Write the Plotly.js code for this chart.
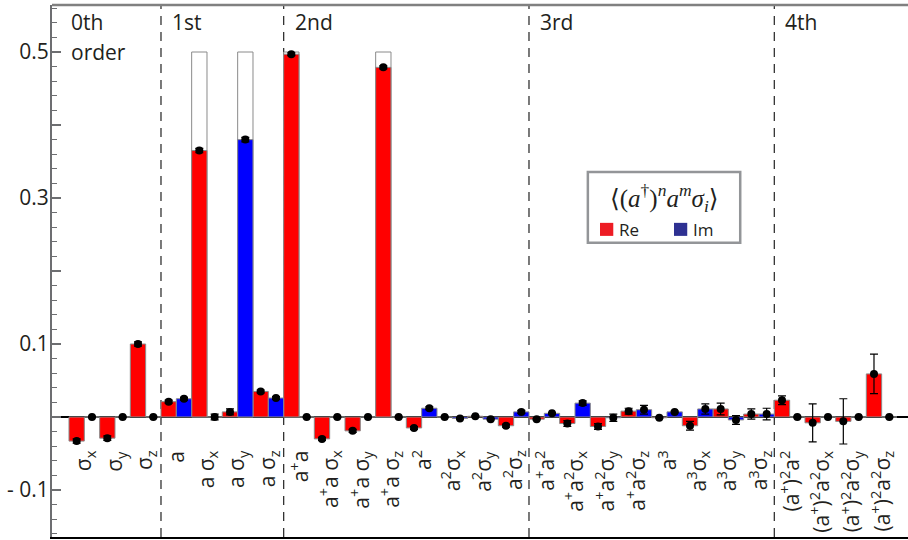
<!DOCTYPE html>
<html><head><meta charset="utf-8">
<script src="https://cdn.plot.ly/plotly-3.0.1.min.js"></script>
<style>html,body{margin:0;padding:0;background:#fff}</style>
</head><body><div id="chart" style="width:908px;height:540px"></div>
<script>
// ---- data ----
const categories = [
  'σ<sub>x</sub>','σ<sub>y</sub>','σ<sub>z</sub>',
  'a','a σ<sub>x</sub>','a σ<sub>y</sub>','a σ<sub>z</sub>',
  'a<sup>+</sup>a','a<sup>+</sup>a σ<sub>x</sub>','a<sup>+</sup>a σ<sub>y</sub>','a<sup>+</sup>a σ<sub>z</sub>',
  'a<sup>2</sup>','a<sup>2</sup>σ<sub>x</sub>','a<sup>2</sup>σ<sub>y</sub>','a<sup>2</sup>σ<sub>z</sub>',
  'a<sup>+</sup>a<sup>2</sup>','a<sup>+</sup>a<sup>2</sup>σ<sub>x</sub>','a<sup>+</sup>a<sup>2</sup>σ<sub>y</sub>','a<sup>+</sup>a<sup>2</sup>σ<sub>z</sub>',
  'a<sup>3</sup>','a<sup>3</sup>σ<sub>x</sub>','a<sup>3</sup>σ<sub>y</sub>','a<sup>3</sup>σ<sub>z</sub>',
  '(a<sup>+</sup>)<sup>2</sup>a<sup>2</sup>','(a<sup>+</sup>)<sup>2</sup>a<sup>2</sup>σ<sub>x</sub>','(a<sup>+</sup>)<sup>2</sup>a<sup>2</sup>σ<sub>y</sub>','(a<sup>+</sup>)<sup>2</sup>a<sup>2</sup>σ<sub>z</sub>'
];
const orderNames = ['0th','1st','2nd','3rd','4th'];
const orderSizes = [3, 4, 8, 8, 4];

const reValues = [
  -0.033, -0.029, 0.100,
  0.021, 0.365, 0.007, 0.035,
  0.497, -0.030, -0.019, 0.479, -0.015, 0.000, 0.001, -0.012,
  -0.003, -0.009, -0.013, 0.008, -0.001, -0.012, 0.011, 0.004,
  0.023, -0.008, -0.006, 0.059
];
const reErrors = [
  0.003, 0.003, 0.003,
  0.002, 0.003, 0.004, 0.002,
  0.002, 0.002, 0.002, 0.002, 0.002, 0.001, 0.001, 0.002,
  0.001, 0.004, 0.004, 0.004, 0.001, 0.006, 0.008, 0.007,
  0.006, 0.026, 0.031, 0.027
];
const imValues = [
  0.000, 0.000, 0.000,
  0.025, 0.000, 0.380, 0.026,
  0.000, 0.000, 0.000, 0.000, 0.012, -0.002, -0.003, 0.007,
  0.005, 0.019, -0.001, 0.010, 0.007, 0.011, -0.004, 0.004,
  0.000, 0.000, 0.000, 0.000
];
const imErrors = [
  0.001, 0.001, 0.001,
  0.002, 0.004, 0.003, 0.002,
  0.001, 0.001, 0.001, 0.001, 0.002, 0.001, 0.001, 0.002,
  0.001, 0.003, 0.005, 0.006, 0.001, 0.007, 0.006, 0.008,
  0.001, 0.001, 0.001, 0.001
];
const idealRe = [
  null, null, null,
  null, 0.5, null, null,
  0.5, null, null, 0.5, null, null, null, null,
  null, null, null, null, null, null, null, null,
  null, null, null, null
];
const idealIm = [
  null, null, null,
  null, null, 0.5, null,
  null, null, null, null, null, null, null, null,
  null, null, null, null, null, null, null, null,
  null, null, null, null
];
const yTickVals = [-0.1, 0, 0.1, 0.2, 0.3, 0.4, 0.5];
const yTickText = ['- 0.1', '', '0.1', '', '0.3', '', '0.5'];
const legendTitle = '⟨(<i>a</i><sup>†</sup>)<sup><i>n</i></sup><i>a</i><sup><i>m</i></sup><i>σ</i><sub><i>i</i></sub>⟩';
const legendNames = ['Re', 'Im'];

// ---- derived ----
const idx = categories.map((_, i) => i);
const bounds = [-0.5];
orderSizes.forEach(n => bounds.push(bounds[bounds.length - 1] + n));
const allBounds = [];
for (let b = -0.5; b <= categories.length - 0.5; b += 1) allBounds.push(b);

const xRange = [-1.054, 26.859];
const yRange = [-0.1644, 0.5644];
const FONT = 'Open Sans, Noto Sans, sans-serif';
const TXT = '#231f20';
const barLine = {color: '#8a8a8a', width: 1};

const traces = [
  {type: 'bar', x: idx, y: idealRe, width: 0.5, offset: -0.5, marker: {color: '#ffffff', line: barLine}, hoverinfo: 'skip'},
  {type: 'bar', x: idx, y: idealIm, width: 0.5, offset: 0, marker: {color: '#ffffff', line: barLine}, hoverinfo: 'skip'},
  {type: 'bar', name: 'Re', x: idx, y: reValues, width: 0.5, offset: -0.5, marker: {color: '#ff0000', line: barLine}},
  {type: 'bar', name: 'Im', x: idx, y: imValues, width: 0.5, offset: 0, marker: {color: '#0000ff', line: barLine}},
  {type: 'scatter', mode: 'markers', x: idx.map(i => i - 0.25), y: reValues,
   marker: {color: '#000', size: 8},
   error_y: {type: 'data', array: reErrors, visible: true, color: '#000', thickness: 1.2, width: 4}},
  {type: 'scatter', mode: 'markers', x: idx.map(i => i + 0.25), y: imValues,
   marker: {color: '#000', size: 8},
   error_y: {type: 'data', array: imErrors, visible: true, color: '#000', thickness: 1.2, width: 4}}
];

const shapes = [];
bounds.slice(1, -1).forEach(b => shapes.push({
  type: 'line', xref: 'x', yref: 'paper', x0: b, x1: b, y0: 0, y1: 1,
  line: {color: '#333', width: 1.3, dash: '9px,7px'}, layer: 'below'
}));
// top border
shapes.push({type: 'line', xref: 'paper', yref: 'paper', x0: 0, x1: 1, y0: 1, y1: 1, line: {color: '#808080', width: 2.5}});
// legend box
const lx0 = 0.626, lx1 = 0.804, ly0 = 0.553, ly1 = 0.686;
shapes.push({type: 'rect', xref: 'paper', yref: 'paper', x0: lx0, x1: lx1, y0: ly0, y1: ly1,
  line: {color: '#939598', width: 2.5}, fillcolor: '#ffffff'});
const legColors = ['#ed1c24', '#2e3192'];
const sqX = [0.6402, 0.7266];
const sqY0 = 0.566, sqY1 = 0.5905;
sqX.forEach((x, k) => shapes.push({type: 'rect', xref: 'paper', yref: 'paper',
  x0: x, x1: x + 0.0155, y0: sqY0, y1: sqY1, line: {width: 0}, fillcolor: legColors[k]}));

const annotations = [];
categories.forEach((c, i) => annotations.push({
  x: i, y: -0.043, xref: 'x', yref: 'y', text: c, textangle: -90, showarrow: false,
  xanchor: 'center', yanchor: 'top', font: {size: 21, family: FONT, color: TXT}
}));
orderNames.forEach((n, k) => annotations.push({
  x: bounds[k], y: 0.541, xref: 'x', yref: 'y', text: n, showarrow: false,
  xanchor: 'left', yanchor: 'middle', xshift: k === 0 ? 0 : 9,
  font: {size: 21, family: FONT, color: TXT}
}));
annotations.push({x: bounds[0], y: 0.5, xref: 'x', yref: 'y', text: 'order', showarrow: false,
  xanchor: 'left', yanchor: 'middle', xshift: 0, font: {size: 21, family: FONT, color: TXT}});
annotations.push({x: (lx0 + lx1) / 2, y: 0.638, xref: 'paper', yref: 'paper', text: legendTitle,
  showarrow: false, xanchor: 'center', yanchor: 'middle', borderpad: 0,
  font: {size: 25, family: 'Liberation Serif, DejaVu Serif, serif', color: TXT}});
legendNames.forEach((n, k) => annotations.push({x: sqX[k] + 0.0215, y: (sqY0 + sqY1) / 2,
  xref: 'paper', yref: 'paper', text: n, showarrow: false, xanchor: 'left', yanchor: 'middle', borderpad: 0,
  font: {size: 17, family: FONT, color: TXT}}));

const layout = {
  width: 908, height: 540,
  margin: {l: 52, r: 0, t: 5, b: 3, pad: 0},
  paper_bgcolor: '#fff', plot_bgcolor: '#fff',
  barmode: 'overlay', showlegend: false,
  font: {family: FONT, color: TXT},
  xaxis: {range: xRange, showgrid: false, zeroline: false, showticklabels: false, ticks: '',
    showline: true, linecolor: '#000', linewidth: 2},
  xaxis2: {overlaying: 'x', anchor: 'free', position: 0.1644 / 0.7288, side: 'bottom', range: xRange,
    tickmode: 'array', tickvals: allBounds, ticks: 'outside', ticklen: 10, tickwidth: 1.5, tickcolor: '#000',
    showticklabels: false, showgrid: false, zeroline: false, showline: false},
  yaxis: {range: yRange, tickmode: 'array', tickvals: yTickVals, ticktext: yTickText,
    ticks: 'inside', ticklen: 9, tickwidth: 1.3, tickcolor: '#6d6e71',
    showline: true, linecolor: '#6d6e71', linewidth: 2, showgrid: false,
    zeroline: true, zerolinecolor: '#000', zerolinewidth: 1.6,
    tickfont: {size: 21, family: FONT, color: TXT}, ticklabelstandoff: -3,
    minor: {tick0: 0, dtick: 0.02, ticks: 'inside', ticklen: 5, tickwidth: 1.2, tickcolor: '#6d6e71', showgrid: false}},
  yaxis2: {overlaying: 'y', side: 'right', range: yRange, tickmode: 'array', tickvals: [-0.1, 0.1, 0.3, 0.5],
    ticks: 'inside', ticklen: 4, tickcolor: '#6d6e71', showticklabels: false, showgrid: false,
    zeroline: false, showline: false},
  shapes: shapes,
  annotations: annotations
};

Plotly.newPlot('chart', traces, layout, {staticPlot: true, displayModeBar: false});
</script>
</body></html>
